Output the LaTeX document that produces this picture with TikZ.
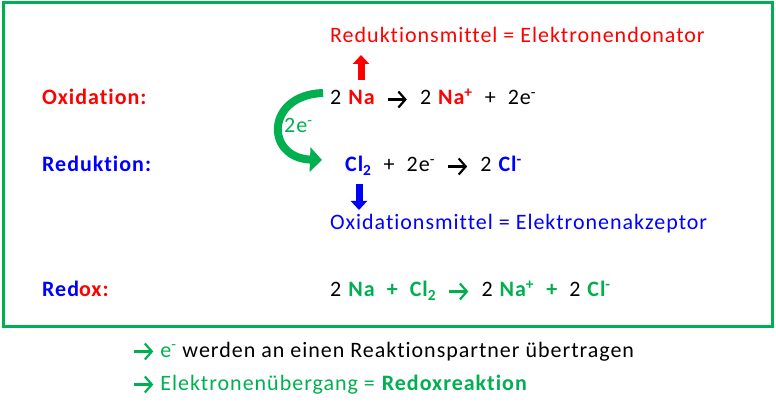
\documentclass[tikz,border=0pt]{standalone}
\usepackage{fontspec}
\setmainfont{Carlito}[Ligatures=NoCommon,LetterSpace=4.5]
\usetikzlibrary{arrows.meta}
\definecolor{ogruen}{RGB}{0,176,80}
\newcommand{\pfeil}[1][black]{\tikz[baseline=0pt]\draw[#1,line width=2.2pt,-{Straight Barb[length=7pt,width=16pt]}] (0pt,5.5pt) -- (19pt,5.5pt);}
\newcommand{\lk}{\hspace{0.55em}}
\tikzset{txt/.style={anchor=base west,inner sep=0pt,font=\fontsize{22}{26}\selectfont},
blockpfeil/.style={line width=7pt,-{Triangle[length=9pt,width=16pt]}}}

\begin{document}
\begin{tikzpicture}[x=1pt,y=-1pt]
\useasboundingbox (0,0) rectangle (776,403);
\draw[ogruen,line width=3pt] (3,3) rectangle (772,326);
\node[txt,red] (rmittel) at (330,43) {Reduktionsmittel = Elektronendonator};
\node[txt,red] (oxlabel) at (42,105) {\textbf{Oxidation:}};
\node[txt] (oxgl) at (330,105) {2 \textbf{\color{red}Na}\lk\pfeil\lk 2 \textbf{\color{red}Na\textsuperscript{+}}\lk+\lk 2e\textsuperscript{-}};
\node[txt,ogruen] (elektr) at (284,133) {2e\textsuperscript{-}};
\node[txt,blue] (redlabel) at (42,172) {\textbf{Reduktion:}};
\node[txt] (redgl) at (345,172) {\textbf{\color{blue}Cl\textsubscript{2}}\lk+\lk 2e\textsuperscript{-}\lk\pfeil\lk 2 \textbf{\color{blue}Cl\textsuperscript{-}}};
\node[txt,blue] (omittel) at (330,230) {Oxidationsmittel = Elektronenakzeptor};
\node[txt] (redoxlabel) at (42,297) {\textbf{\color{blue}Red\color{red}ox:}};
\node[txt] (redoxgl) at (330,297) {2 \textbf{\color{ogruen}Na}\lk\textbf{\color{ogruen}+}\lk\textbf{\color{ogruen}Cl\textsubscript{2}}\lk\pfeil[ogruen]\lk 2 \textbf{\color{ogruen}Na\textsuperscript{+}}\lk\textbf{\color{ogruen}+}\lk 2 \textbf{\color{ogruen}Cl\textsuperscript{-}}};
\node[txt] (satz1) at (133,357) {\pfeil[ogruen] \textcolor{ogruen}{e\textsuperscript{-}} werden an einen Reaktionspartner übertragen};
\node[txt,ogruen] (satz2) at (133,390) {\pfeil[ogruen] Elektronenübergang = \textbf{Redoxreaktion}};
\coordinate (rfuss) at (361,80);
\coordinate (rspitze) at (361,55);
\coordinate (bfuss) at (359,184);
\coordinate (bspitze) at (359,210);
\coordinate (gstart) at (323,93);
\coordinate (gende) at (322,160);
\draw[blockpfeil,red] (rfuss) -- (rspitze);
\draw[blockpfeil,blue] (bfuss) -- (bspitze);
\draw[ogruen,line width=8pt,-{Triangle[length=12pt,width=24pt]}] (gstart) .. controls (265,95) and (265,158) .. (gende);
\end{tikzpicture}
\end{document}
